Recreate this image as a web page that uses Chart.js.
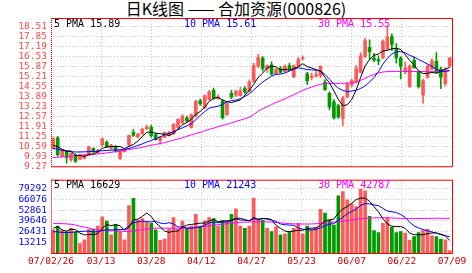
<!DOCTYPE html>
<html>
<head>
<meta charset="utf-8">
<script src="https://cdn.jsdelivr.net/npm/chart.js@4.4.1/dist/chart.umd.min.js"></script>
<style>
  html, body { margin: 0; padding: 0; background: #fff; }
  #wrap { position: relative; width: 472px; height: 273px; overflow: hidden; }
  #title { position: absolute; left: 0; top: 0; width: 472px; text-align: center;
           font: 16px 'Noto Sans CJK SC', sans-serif; line-height: 17px; color: #000; }
  #price { position: absolute; left: 0; top: 0; }
  #vol { position: absolute; left: 0; top: 170px; }
</style>
</head>
<body>
<div id="wrap">
  <div id="title">日K线图 —— 合加资源(000826)</div>
  <canvas id="price" width="472" height="176"></canvas>
  <canvas id="vol" width="472" height="103"></canvas>
</div>
<script>
'use strict';

// ***** DATA
const dates = ['07/02/26', '03/13', '03/28', '04/12', '04/27', '05/23', '06/07', '06/22', '07/09'];
const priceTicks = [9.27, 9.93, 10.59, 11.25, 11.91, 12.57, 13.23, 13.89, 14.55, 15.21, 15.87, 16.53, 17.19, 17.85, 18.51];
const volTicks = [13215, 26431, 39646, 52861, 66076, 79292];
const maNames = ['5 PMA', '10 PMA', '30 PMA'];
const priceMaLast = [15.89, 15.61, 15.55];
const volMaLast = [16629, 21243, 42787];

const open = [10.45, 11.15, 9.96, 10.24, 9.70, 10.02, 9.74, 9.80, 10.02, 10.45,
  10.17, 10.67, 10.88, 10.45, 10.60, 9.80, 10.24, 10.67, 11.52, 11.20,
  11.41, 11.74, 11.85, 11.38, 10.99, 11.20, 11.31, 11.41, 11.85, 12.17,
  12.49, 11.85, 12.60, 13.61, 13.14, 13.70, 14.31, 13.75, 13.60, 12.70,
  14.10, 13.98, 13.95, 14.42, 14.25, 14.90, 15.90, 16.45, 15.70, 16.00,
  15.40, 15.75, 15.55, 15.95, 15.20, 15.90, 16.40, 15.40, 15.15, 15.25,
  15.30, 14.85, 14.10, 13.55, 13.30, 12.45, 13.85, 14.65, 14.90, 15.50,
  16.55, 17.15, 16.45, 16.35, 16.45, 17.05, 17.85, 17.10, 16.45, 15.55,
  14.55, 16.30, 15.50, 13.98, 15.18, 15.71, 16.25, 15.71, 14.75, 15.93];
const high = [11.20, 11.25, 10.40, 10.30, 10.20, 10.10, 10.10, 10.08, 10.60, 10.50,
  10.40, 11.15, 10.95, 10.72, 10.66, 10.38, 10.42, 11.35, 11.70, 11.45,
  11.80, 12.00, 12.00, 11.45, 11.25, 11.56, 11.58, 12.10, 12.42, 12.70,
  12.60, 12.75, 13.65, 13.72, 14.00, 14.30, 14.45, 14.00, 13.70, 13.50,
  14.30, 14.30, 14.50, 14.55, 15.00, 16.10, 16.70, 16.55, 16.00, 16.20,
  15.75, 15.90, 16.00, 16.10, 16.00, 16.50, 16.60, 15.50, 15.45, 15.55,
  15.95, 15.00, 14.20, 13.70, 13.40, 13.90, 14.85, 15.05, 15.95, 16.80,
  17.75, 17.65, 16.75, 16.60, 17.65, 18.60, 18.05, 17.40, 16.55, 16.20,
  16.00, 16.50, 15.60, 15.05, 16.00, 16.40, 16.80, 15.85, 15.80, 16.50];
const low = [10.40, 9.95, 9.90, 9.48, 9.60, 9.52, 9.70, 9.76, 9.98, 10.18,
  10.12, 10.60, 10.50, 10.40, 10.20, 9.70, 10.20, 10.60, 11.25, 11.15,
  11.38, 11.70, 11.20, 11.00, 10.73, 11.15, 11.28, 11.38, 11.80, 12.10,
  12.20, 11.80, 12.55, 13.30, 13.10, 13.65, 13.70, 13.70, 12.40, 12.65,
  13.75, 13.90, 13.90, 14.10, 14.20, 14.85, 15.80, 15.60, 15.50, 15.30,
  15.35, 15.45, 15.50, 15.65, 15.15, 15.85, 16.30, 14.70, 15.00, 15.20,
  15.15, 14.30, 13.03, 12.40, 12.45, 11.97, 13.80, 14.55, 14.80, 15.45,
  16.45, 16.35, 16.20, 16.00, 16.40, 16.95, 16.95, 16.10, 15.07, 15.40,
  14.50, 15.75, 14.45, 13.45, 15.10, 15.65, 15.45, 14.42, 14.60, 15.85];
const close = [11.10, 10.02, 10.34, 9.85, 10.13, 9.59, 10.02, 10.02, 10.56, 10.24,
  10.34, 11.09, 10.56, 10.67, 10.24, 10.34, 10.38, 11.31, 11.31, 11.41,
  11.74, 11.89, 11.30, 11.03, 11.20, 11.52, 11.52, 12.06, 12.38, 12.60,
  12.28, 12.70, 13.57, 13.41, 13.95, 14.20, 13.78, 13.85, 12.50, 13.45,
  13.85, 14.24, 14.28, 14.20, 14.86, 15.95, 16.50, 15.75, 15.95, 15.40,
  15.70, 15.50, 15.90, 15.70, 15.95, 16.35, 16.45, 14.95, 15.25, 15.35,
  15.90, 14.35, 13.20, 12.50, 12.55, 13.80, 14.70, 14.95, 15.75, 16.60,
  17.60, 16.85, 16.30, 16.25, 17.55, 17.85, 17.35, 16.45, 15.90, 15.80,
  15.93, 15.80, 14.55, 14.95, 15.93, 16.25, 15.52, 15.18, 15.71, 16.45];

const ma5 = [10.67, 10.56, 10.40, 10.28, 10.29, 9.99, 9.99, 9.92, 10.06, 10.09,
  10.24, 10.45, 10.56, 10.58, 10.58, 10.58, 10.44, 10.59, 10.72, 10.95,
  11.23, 11.53, 11.53, 11.47, 11.43, 11.39, 11.31, 11.47, 11.74, 12.02,
  12.17, 12.40, 12.71, 12.91, 13.18, 13.57, 13.78, 13.84, 13.66, 13.56,
  13.49, 13.58, 13.66, 14.00, 14.29, 14.71, 15.16, 15.45, 15.80, 15.91,
  15.86, 15.66, 15.69, 15.64, 15.75, 15.88, 16.07, 15.88, 15.79, 15.67,
  15.58, 15.16, 14.81, 14.26, 13.70, 13.28, 13.35, 13.70, 14.35, 15.16,
  15.92, 16.35, 16.62, 16.72, 16.91, 16.96, 17.06, 17.09, 17.02, 16.67,
  16.29, 15.98, 15.60, 15.41, 15.43, 15.50, 15.44, 15.57, 15.72, 15.82];
const ma10 = [10.45, 10.40, 10.32, 10.27, 10.24, 10.22, 10.22, 10.23, 10.24, 10.25,
  10.27, 10.30, 10.32, 10.34, 10.35, 10.36, 10.40, 10.45, 10.55, 10.65,
  10.76, 10.88, 10.98, 11.10, 11.22, 11.36, 11.46, 11.56, 11.70, 11.82,
  11.95, 12.10, 12.35, 12.65, 12.90, 13.12, 13.20, 13.25, 13.38, 13.55,
  13.62, 13.66, 13.75, 13.90, 14.08, 14.33, 14.60, 14.85, 15.05, 15.25,
  15.37, 15.38, 15.45, 15.58, 15.70, 15.80, 15.75, 15.68, 15.66, 15.64,
  15.58, 15.35, 15.05, 14.70, 14.45, 14.30, 14.22, 14.26, 14.31, 14.43,
  14.60, 14.85, 15.16, 15.54, 16.04, 16.44, 16.71, 16.86, 16.87, 16.79,
  16.62, 16.52, 16.34, 16.21, 16.05, 15.89, 15.71, 15.58, 15.56, 15.63];
const ma30 = [9.85, 9.87, 9.89, 9.91, 9.94, 9.97, 10.00, 10.02, 10.04, 10.06,
  10.09, 10.12, 10.16, 10.20, 10.24, 10.28, 10.33, 10.38, 10.43, 10.48,
  10.53, 10.60, 10.66, 10.72, 10.78, 10.84, 10.92, 11.00, 11.08, 11.16,
  11.26, 11.36, 11.44, 11.52, 11.62, 11.72, 11.80, 11.90, 11.98, 12.06,
  12.15, 12.25, 12.33, 12.42, 12.52, 12.70, 12.92, 13.08, 13.22, 13.36,
  13.50, 13.62, 13.74, 13.88, 14.02, 14.16, 14.30, 14.42, 14.52, 14.62,
  14.70, 14.75, 14.77, 14.77, 14.77, 14.77, 14.78, 14.80, 14.84, 14.96,
  15.10, 15.24, 15.36, 15.46, 15.52, 15.55, 15.56, 15.56, 15.56, 15.56,
  15.56, 15.56, 15.55, 15.55, 15.54, 15.54, 15.54, 15.55, 15.56, 15.60];

const volume = [28500, 33300, 28000, 26500, 30600, 26500, 11600, 16400, 29400, 29400,
  33300, 44600, 39400, 22500, 35400, 26500, 16400, 58700, 67500, 40600,
  42600, 38000, 36600, 28500, 15600, 17300, 29400, 43900, 29400, 39400,
  30600, 33300, 47800, 33300, 39700, 43900, 42600, 33300, 39400, 39400,
  47800, 54700, 33300, 30600, 33300, 68000, 40600, 40600, 30600, 26500,
  32500, 22500, 23700, 26500, 30600, 36600, 23700, 33300, 29400, 31800,
  53900, 49400, 40600, 34500, 70800, 76000, 65600, 60800, 57500, 78900,
  76800, 45400, 27700, 25300, 36600, 43900, 31800, 25300, 26500, 24500,
  15600, 20400, 25300, 27700, 29400, 21300, 20400, 17300, 16400, 3100];
const vma5 = [30600, 32500, 28500, 27000, 29400, 29000, 24600, 22300, 22900, 22700,
  24000, 30600, 35200, 33800, 35000, 33700, 28000, 31900, 40900, 41900,
  45200, 49500, 45100, 37300, 32300, 27200, 25500, 26900, 27100, 31900,
  34500, 35300, 36100, 36900, 36900, 39600, 41500, 38600, 39800, 39700,
  40500, 42900, 42900, 41200, 39900, 44000, 41200, 42600, 42600, 41300,
  34200, 30500, 27200, 26300, 27200, 28000, 28200, 30100, 30700, 31000,
  34400, 39600, 41000, 42000, 49800, 54300, 57500, 61500, 66100, 67800,
  67900, 63900, 57300, 50800, 42400, 35800, 33100, 32600, 32800, 30400,
  24700, 22500, 22500, 22700, 23700, 24800, 24800, 23200, 21000, 15700];
const vma10 = [26500, 26000, 25500, 25300, 25500, 26000, 26500, 27000, 26800, 26000,
  26500, 27600, 28800, 28400, 28900, 28900, 29300, 33600, 37400, 38500,
  39400, 38800, 38500, 39100, 37100, 36200, 37500, 36000, 32200, 32100,
  30900, 30400, 31500, 32000, 34400, 37100, 38400, 37300, 38300, 38300,
  40100, 42200, 40700, 40500, 39800, 42200, 42000, 42800, 41900, 40600,
  39100, 35900, 34900, 34500, 34200, 31100, 29400, 28700, 28500, 29100,
  31200, 33900, 35600, 36400, 40400, 44300, 48500, 51300, 54100, 58800,
  61100, 60700, 59400, 58500, 55100, 51900, 51000, 50000, 47500, 44000,
  38000, 33500, 31000, 29000, 27500, 26000, 24500, 22800, 21500, 20000];
const vma30 = [36600, 36500, 36300, 36000, 35500, 34500, 33000, 32000, 31000, 29500,
  28500, 28000, 27700, 27500, 27300, 27000, 26800, 26600, 27500, 28200,
  29000, 29800, 30500, 30700, 30700, 30700, 30600, 30600, 30600, 30600,
  30800, 31200, 31700, 32300, 33000, 33700, 34400, 35000, 35600, 36200,
  36800, 37300, 37800, 38100, 38400, 38500, 38500, 38500, 38400, 38200,
  37800, 37300, 36800, 36300, 36000, 35800, 35800, 35800, 35900, 36200,
  36600, 37200, 37800, 38300, 38800, 39300, 40000, 40800, 41500, 42200,
  42800, 43200, 43400, 43500, 43500, 43400, 43200, 43000, 42800, 42600,
  42500, 42500, 42600, 42700, 42800, 42800, 42900, 42900, 42800, 42800];

// ***** STYLE
const RED = '#ff5a5a';
const GREEN = '#009a00';
const MA_COLORS = ['#000000', '#0000ff', '#ff00ff'];
const GRID = '#c4c4c4';
const MONO = 'DejaVu Sans Mono';

Chart.defaults.font.family = MONO;

const barColor = close.map((c, i) => (c >= open[i] ? RED : GREEN));

// ***** HELPERS
function maLine(values, color) {
  return {
    type: 'line',
    data: values.map((v, i) => ({ x: i, y: v })),
    borderColor: color,
    borderWidth: 1,
    pointRadius: 0,
    tension: 0,
    order: 0
  };
}

function xScale(showLabels) {
  return {
    type: 'linear',
    min: -0.5,
    max: close.length - 0.5,
    offset: false,
    afterBuildTicks: s => {
      s.ticks = dates.map((d, k) => ({ value: -0.5 + k * close.length / (dates.length - 1) }));
    },
    afterFit: s => { s.height = showLabels ? 20 : 0; },
    grid: { color: GRID, drawTicks: false, offset: false },
    border: { display: false, dash: [1, 2] },
    ticks: {
      display: showLabels,
      autoSkip: false,
      maxRotation: 0,
      padding: 3,
      color: '#cc0000',
      font: { family: MONO, size: 9.5 },
      callback: (v, k) => dates[k]
    }
  };
}

function yScale(min, max, tickValues, color, fmt) {
  return {
    min: min,
    max: max,
    afterBuildTicks: s => { s.ticks = tickValues.map(v => ({ value: v })); },
    afterFit: s => { s.width = 51; },
    grid: { color: GRID, drawTicks: false },
    border: { display: false, dash: [1, 2] },
    ticks: {
      autoSkip: false,
      padding: 4,
      color: color,
      font: { family: MONO, size: 9.5 },
      callback: fmt
    }
  };
}

// red frame, dotted on the left, plus the PMA captions
const framePlugin = {
  id: 'frame',
  afterDraw(chart, args, opts) {
    const ctx = chart.ctx;
    const a = chart.chartArea;
    ctx.save();
    ctx.strokeStyle = '#ff0000';
    ctx.lineWidth = 1;
    ctx.beginPath();
    ctx.moveTo(a.left, a.top + 0.5);
    ctx.lineTo(a.right + 0.5, a.top + 0.5);
    ctx.lineTo(a.right + 0.5, a.bottom + 0.5);
    ctx.lineTo(a.left, a.bottom + 0.5);
    ctx.stroke();
    ctx.setLineDash([1, 1]);
    ctx.beginPath();
    ctx.moveTo(a.left + 0.5, a.top);
    ctx.lineTo(a.left + 0.5, a.bottom);
    ctx.stroke();

    ctx.setLineDash([]);
    ctx.font = '10px "' + MONO + '"';
    ctx.textBaseline = 'alphabetic';
    const offsets = [3, 133, 267];
    opts.labels.forEach((txt, k) => {
      ctx.fillStyle = MA_COLORS[k];
      ctx.fillText(txt, a.left + offsets[k], a.top + 8.5);
    });
    ctx.restore();
  }
};

const baseOptions = {
  responsive: false,
  animation: false,
  devicePixelRatio: 1
};

// ***** PRICE PANEL (candles)
const idx = close.map((c, i) => i);

new Chart(document.getElementById('price'), {
  type: 'bar',
  data: {
    datasets: [
      maLine(ma5, MA_COLORS[0]),
      maLine(ma10, MA_COLORS[1]),
      maLine(ma30, MA_COLORS[2]),
      {
        type: 'bar',
        data: idx.map(i => ({ x: i, y: [open[i], close[i]] })),
        backgroundColor: barColor,
        barThickness: 3,
        minBarLength: 1,
        grouped: false,
        order: 1
      },
      {
        type: 'bar',
        data: idx.map(i => ({ x: i, y: [low[i], high[i]] })),
        backgroundColor: barColor,
        barThickness: 1,
        grouped: false,
        order: 2
      }
    ]
  },
  options: {
    ...baseOptions,
    layout: { padding: { top: 18, right: 20, bottom: 7, left: 0 } },
    scales: {
      x: xScale(false),
      y: yScale(9.27, 19.1, priceTicks, '#ff4848', v => v.toFixed(2))
    },
    plugins: {
      legend: { display: false },
      tooltip: { enabled: false },
      frame: { labels: maNames.map((n, k) => n + ' ' + priceMaLast[k].toFixed(2)) }
    }
  },
  plugins: [framePlugin]
});

// ***** VOLUME PANEL
new Chart(document.getElementById('vol'), {
  type: 'bar',
  data: {
    datasets: [
      maLine(vma5, MA_COLORS[0]),
      maLine(vma10, MA_COLORS[1]),
      maLine(vma30, MA_COLORS[2]),
      {
        type: 'bar',
        data: idx.map(i => ({ x: i, y: volume[i] })),
        backgroundColor: barColor,
        barThickness: 3,
        grouped: false,
        order: 1
      }
    ]
  },
  options: {
    ...baseOptions,
    layout: { padding: { top: 8, right: 20, bottom: 0, left: 0 } },
    scales: {
      x: xScale(true),
      y: yScale(0, 90600, volTicks, '#0000ff', v => String(v))
    },
    plugins: {
      legend: { display: false },
      tooltip: { enabled: false },
      frame: { labels: maNames.map((n, k) => n + ' ' + volMaLast[k]) }
    }
  },
  plugins: [framePlugin]
});
</script>
</body>
</html>
